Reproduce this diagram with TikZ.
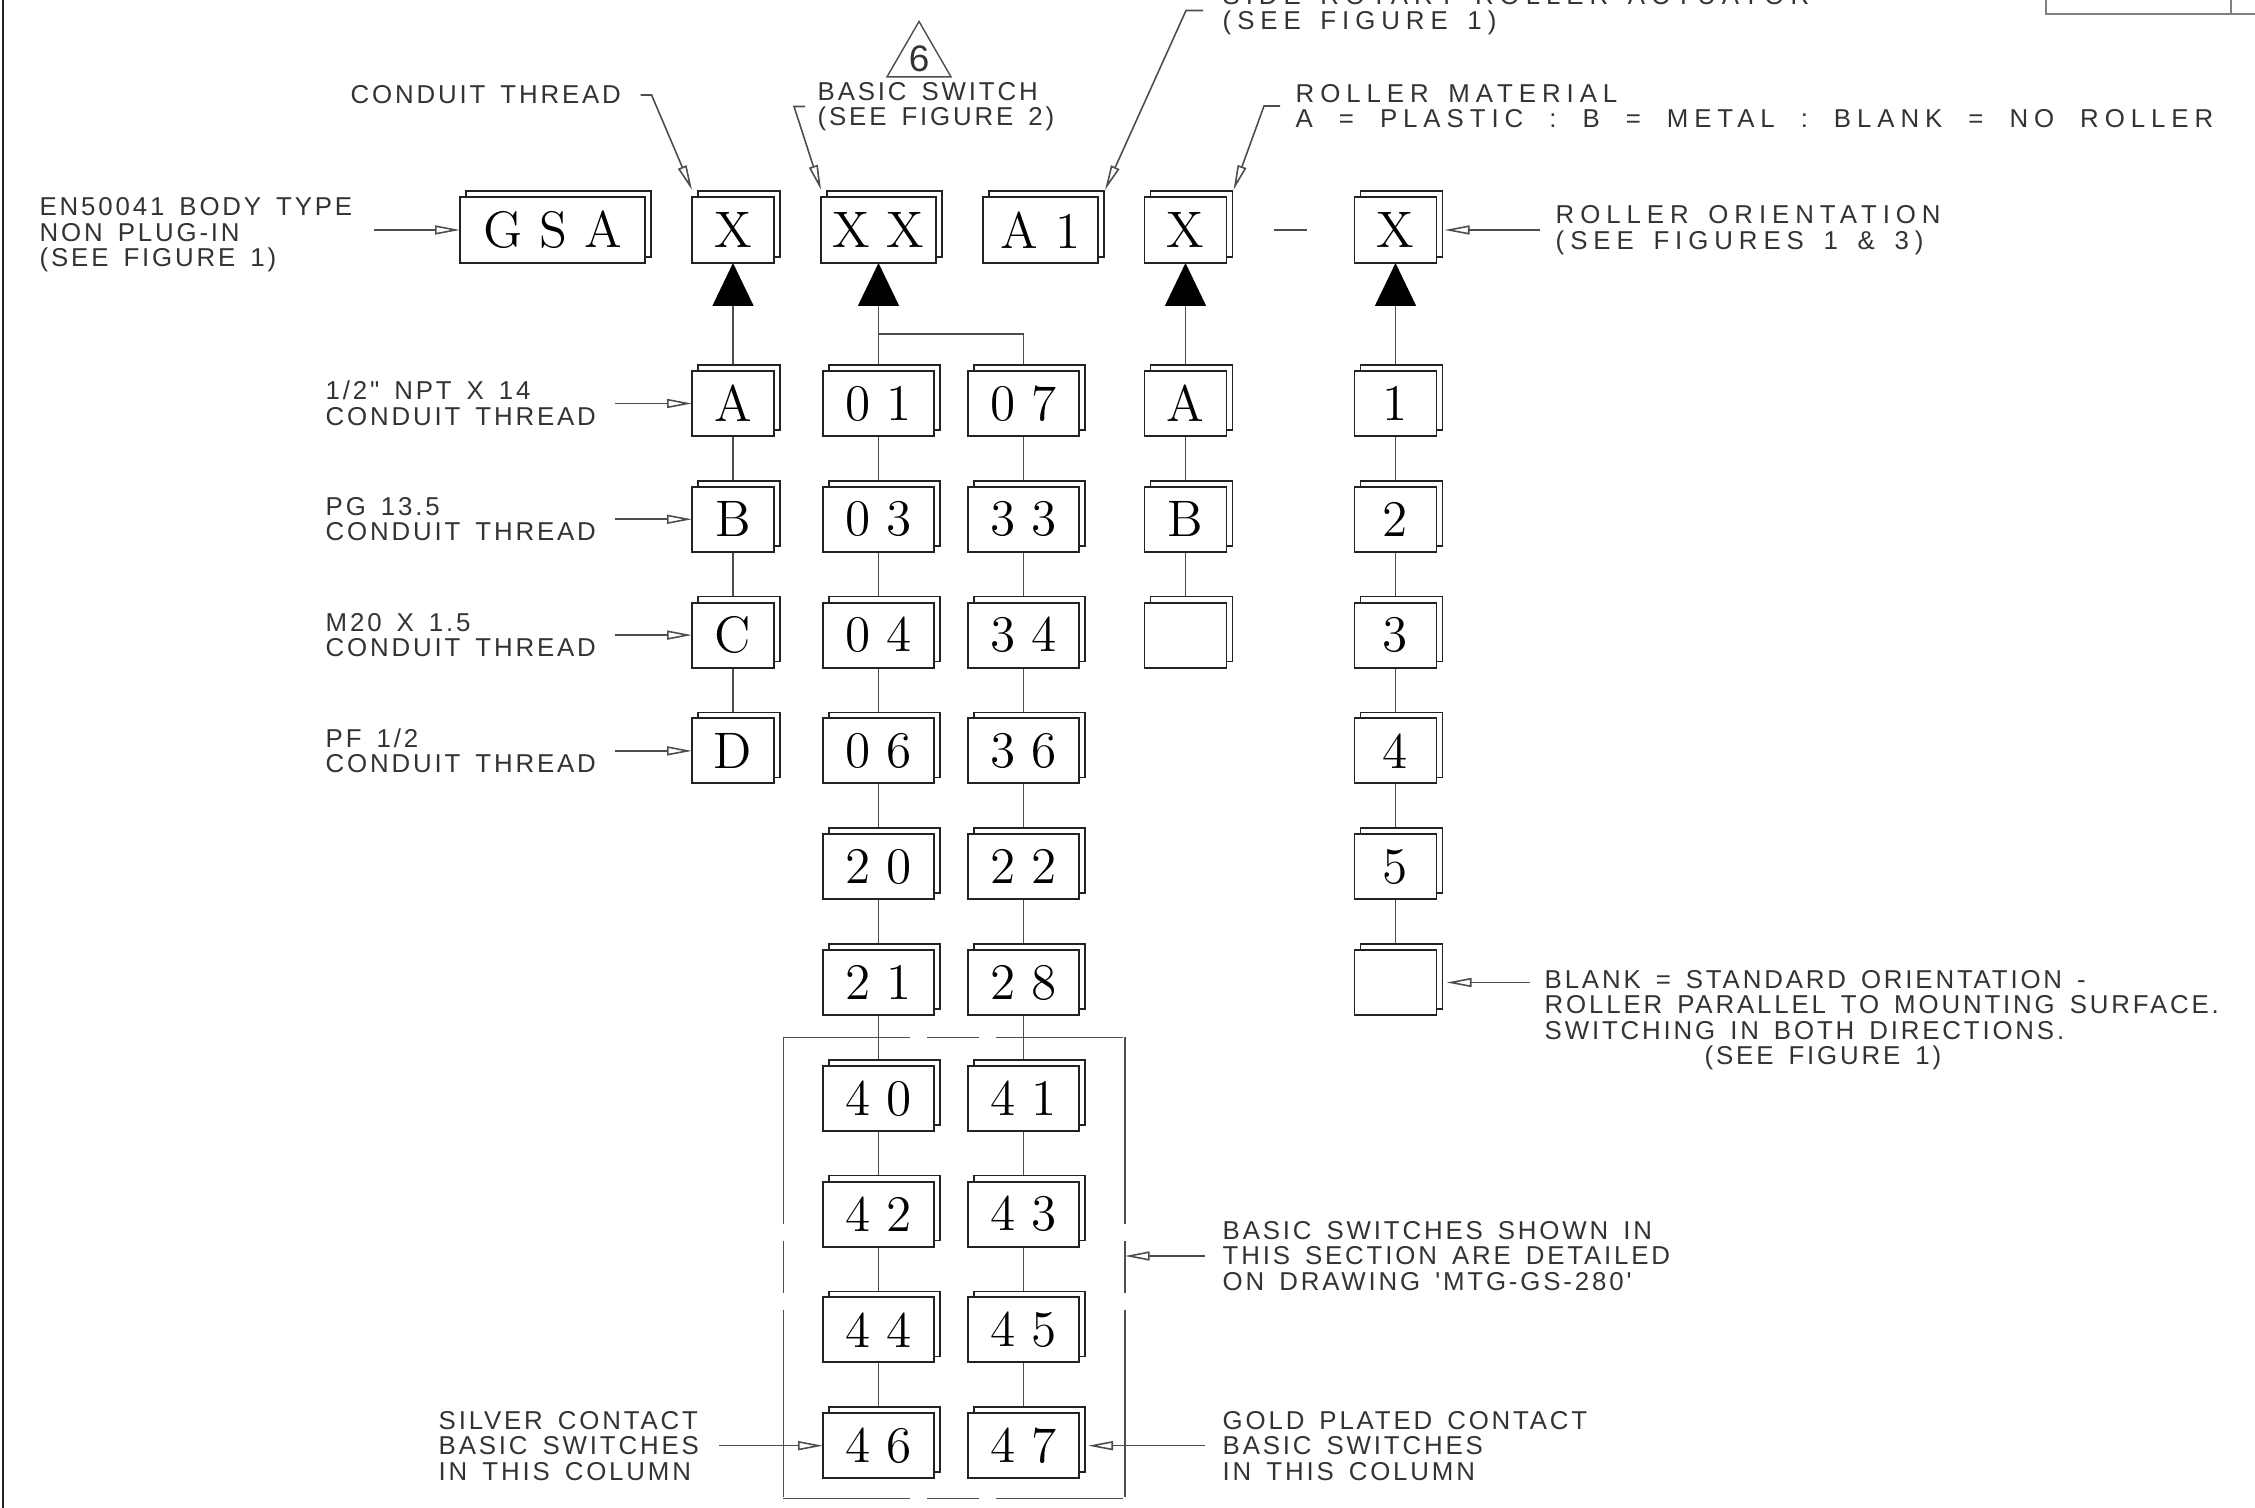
\documentclass[tikz,border=0pt]{standalone}
\usepackage{fontspec}
\usetikzlibrary{arrows.meta, positioning, calc, shadows, backgrounds, shapes.geometric}

\newfontfamily\notefont[LetterSpace=11, WordSpace=1.5, Ligatures=TeXOff]{Liberation Sans}
\newfontfamily\widefont[LetterSpace=23, WordSpace=1.5, Ligatures=TeXOff]{Liberation Sans}
\newfontfamily\revfont{Liberation Sans}
\newcommand{\notesize}{\fontsize{7.35}{7.25}\selectfont}
\newcommand{\codesize}{\fontsize{14.6}{14.6}\selectfont}
\newcommand{\wsp}{\hspace{2.6mm}}

\definecolor{inkline}{HTML}{222222}
\definecolor{inkgray}{HTML}{4D4D4D}
\definecolor{inktext}{HTML}{333333}

\begin{document}
\begin{tikzpicture}[
  box/.style={
    rectangle,
    draw=inkline,
    fill=white,
    line width=0.55pt,
    inner sep=0pt,
    outer sep=0pt,
    minimum width=0.82cm,
    minimum height=0.65cm,
    font=\codesize,
    copy shadow={shadow xshift=0.6mm, shadow yshift=0.6mm,
      draw=inkline, fill=white, line width=0.5pt}
  },
  wide/.style={box, minimum width=1.11cm},
  head/.style={box, minimum height=0.66cm},
  note/.style={
    font=\notefont\notesize,
    text=inktext,
    align=left,
    inner sep=0pt,
    anchor=west
  },
  widenote/.style={note, font=\widefont\notesize},
  link/.style={draw=inkgray, line width=0.45pt},
  lead/.style={link, -{Triangle[open, length=2.5mm, width=0.9mm]}},
  pointer/.style={link, -{Triangle[length=4.3mm, width=4.1mm, color=black]}},
  node distance=1.158cm,
  on grid
]

\useasboundingbox (0,0) rectangle (22.55,15.07);

% ------------------------------------------------------------
% Sheet border and title block corner
% ------------------------------------------------------------

\draw[line width=0.75pt, draw=inkline] (0.03,-0.1) -- (0.03,15.2);
\draw[line width=0.5pt, draw=gray] (20.46,15.2) |- (22.7,14.93);
\draw[line width=0.5pt, draw=gray] (22.31,15.2) -- (22.31,14.93);

% ------------------------------------------------------------
% Part number boxes
% ------------------------------------------------------------

\node[head, minimum width=1.85cm] (gsa) at (5.525,12.77) {G S A};
\node[head, right=1.805cm of gsa] (tX) {X};
\node[head, minimum width=1.15cm, right=1.455cm of tX] (tXX) {X X};
\node[head, minimum width=1.15cm, right=1.62cm of tXX] (tA1) {A 1};
\node[head, right=1.45cm of tA1] (tXr) {X};
\node[head, right=2.10cm of tXr] (tXo) {X};

\draw[link] ($(tXr.east)!0.5!(tXo.west)$) ++(-0.165,0) -- ++(0.33,0);

\node[regular polygon, regular polygon sides=3, draw=inkgray, line width=0.4pt,
  minimum size=0.73cm, inner sep=0pt,
  font=\revfont\fontsize{10.5}{10.5}\selectfont, text=inktext] (rev) at (9.19,14.486) {6};

% ------------------------------------------------------------
% Option columns
% ------------------------------------------------------------

\node[box, below=1.735cm of tX] (cA) {A};
\node[box, below=of cA] (cB) {B};
\node[box, below=of cB] (cC) {C};
\node[box, below=of cC] (cD) {D};

\node[wide, below=1.735cm of tXX] (s01) {0 1};
\node[wide, below=of s01] (s03) {0 3};
\node[wide, below=of s03] (s04) {0 4};
\node[wide, below=of s04] (s06) {0 6};
\node[wide, below=of s06] (s20) {2 0};
\node[wide, below=of s20] (s21) {2 1};
\node[wide, below=of s21] (s40) {4 0};
\node[wide, below=of s40] (s42) {4 2};
\node[wide, below=of s42] (s44) {4 4};
\node[wide, below=of s44] (s46) {4 6};

\node[wide, right=1.45cm of s01] (s07) {0 7};
\node[wide, below=of s07] (s33) {3 3};
\node[wide, below=of s33] (s34) {3 4};
\node[wide, below=of s34] (s36) {3 6};
\node[wide, below=of s36] (s22) {2 2};
\node[wide, below=of s22] (s28) {2 8};
\node[wide, below=of s28] (s41) {4 1};
\node[wide, below=of s41] (s43) {4 3};
\node[wide, below=of s43] (s45) {4 5};
\node[wide, below=of s45] (s47) {4 7};

\node[box, below=1.735cm of tXr] (rA) {A};
\node[box, below=of rA] (rB) {B};
\node[box, below=of rB] (rN) {};

\node[box, below=1.735cm of tXo] (o1) {1};
\node[box, below=of o1] (o2) {2};
\node[box, below=of o2] (o3) {3};
\node[box, below=of o3] (o4) {4};
\node[box, below=of o4] (o5) {5};
\node[box, below=of o5] (oN) {};

% dashed section round the detailed switches
\node[inner sep=0pt, minimum width=3.40cm, minimum height=4.60cm] (sec) at (9.54,2.39) {};
\draw[link, dash pattern=on 1.27cm off 1.7mm on 5.2mm off 1.7mm] (sec.north west) -- (sec.north east);
\draw[link, dash pattern=on 1.27cm off 1.7mm on 5.2mm off 1.7mm] (sec.south west) -- (sec.south east);
\draw[link, dash pattern=on 1.87cm off 1.7mm on 5.2mm off 1.7mm] (sec.north west) -- (sec.south west);
\draw[link, dash pattern=on 1.87cm off 1.7mm on 5.2mm off 1.7mm] (sec.north east) -- (sec.south east);

% ------------------------------------------------------------
% Column links
% ------------------------------------------------------------

\begin{scope}[on background layer]
  \foreach \u/\v in {cA/cB, cB/cC, cC/cD,
      s01/s03, s03/s04, s04/s06, s06/s20, s20/s21, s21/s40, s40/s42, s42/s44, s44/s46,
      s07/s33, s33/s34, s34/s36, s36/s22, s22/s28, s28/s41, s41/s43, s43/s45, s45/s47,
      rA/rB, rB/rN, o1/o2, o2/o3, o3/o4, o4/o5, o5/oN}
    \draw[link] (\u) -- (\v);

  \coordinate[above=0.37cm of s01.north] (fork);
  \draw[link] (s07) |- (fork);

  \draw[pointer] (cA) -- (tX);
  \draw[pointer] (s01) -- (tXX);
  \draw[pointer] (rA) -- (tXr);
  \draw[pointer] (o1) -- (tXo);
\end{scope}

% ------------------------------------------------------------
% Notes
% ------------------------------------------------------------

\node[note] (en) at (0.39,12.72) {EN50041 BODY TYPE\\NON PLUG-IN\\(SEE FIGURE 1)};

\node[note] (thA) at (3.25,0 |- cA) {1/2" NPT X 14\\CONDUIT THREAD};
\node[note] (thB) at (3.25,0 |- cB) {PG 13.5\\CONDUIT THREAD};
\node[note] (thC) at (3.25,0 |- cC) {M20 X 1.5\\CONDUIT THREAD};
\node[note] (thD) at (3.25,0 |- cD) {PF 1/2\\CONDUIT THREAD};

\node[note] (ct) at (3.50,14.12) {CONDUIT THREAD};
\node[note] (bs) at (8.17,14.005) {BASIC SWITCH\\(SEE FIGURE 2)};
\node[widenote] (sr) at (12.22,14.965) {SIDE ROTARY ROLLER ACTUATOR\\(SEE FIGURE 1)};
\node[widenote] (rm) at (12.95,14.01) {ROLLER MATERIAL\\A\wsp=\wsp PLASTIC\wsp:\wsp B\wsp=\wsp METAL\wsp:\wsp BLANK\wsp=\wsp NO\wsp ROLLER};
\node[widenote] (ro) at (15.55,0 |- tXo) {ROLLER ORIENTATION\\(SEE FIGURES 1 \& 3)};

\node[note] (bl) at (15.44,4.87) {BLANK = STANDARD ORIENTATION -\\ROLLER PARALLEL TO MOUNTING SURFACE.\\SWITCHING IN BOTH DIRECTIONS.\\\hspace*{1.6cm}(SEE FIGURE 1)};
\node[note] (bss) at (12.22,2.51) {BASIC SWITCHES SHOWN IN\\THIS SECTION ARE DETAILED\\ON DRAWING 'MTG-GS-280'};
\node[note] (gold) at (12.22,0 |- s47) {GOLD PLATED CONTACT\\BASIC SWITCHES\\IN THIS COLUMN};
\node[note] (silver) at (4.38,0 |- s46) {SILVER CONTACT\\BASIC SWITCHES\\IN THIS COLUMN};

% ------------------------------------------------------------
% Leaders
% ------------------------------------------------------------

\draw[lead, shorten <=2.1mm] (en.east |- gsa.west) -- (gsa.west);
\foreach \n in {A,B,C,D}
  \draw[lead, shorten <=1.8mm] (th\n.east |- c\n.west) -- (c\n.west);

\draw[lead] ([xshift=1.9mm]ct.east) -- ++(0.11,0) -- ([yshift=0.7mm]tX.north west);
\draw[lead] ([xshift=-1.2mm]bs.west) -- ++(-0.11,0) -- ([yshift=0.7mm]tXX.north west);
\draw[lead] ([xshift=-1.9mm]sr.west) -- ++(-0.17,0) -- ([shift={(0.07,0.07)}]tA1.north east);
\draw[lead] ([xshift=-1.5mm]rm.west) -- ++(-0.16,0) -- ([shift={(0.07,0.07)}]tXr.north east);

\draw[lead, shorten <=1.5mm] (ro.west |- tXo.east) -- ([xshift=0.8mm]tXo.east);
\draw[lead, shorten <=1.4mm] (bl.west |- oN.east) -- ([xshift=1mm]oN.east);
\draw[lead, shorten <=1.7mm] (bss.west) -- (bss.west -| sec.east);
\draw[lead, shorten <=1.7mm] (gold.west |- s47.east) -- ([xshift=0.9mm]s47.east);
\draw[lead, shorten <=1.9mm] (silver.east |- s46.west) -- (s46.west);

\end{tikzpicture}
\end{document}
